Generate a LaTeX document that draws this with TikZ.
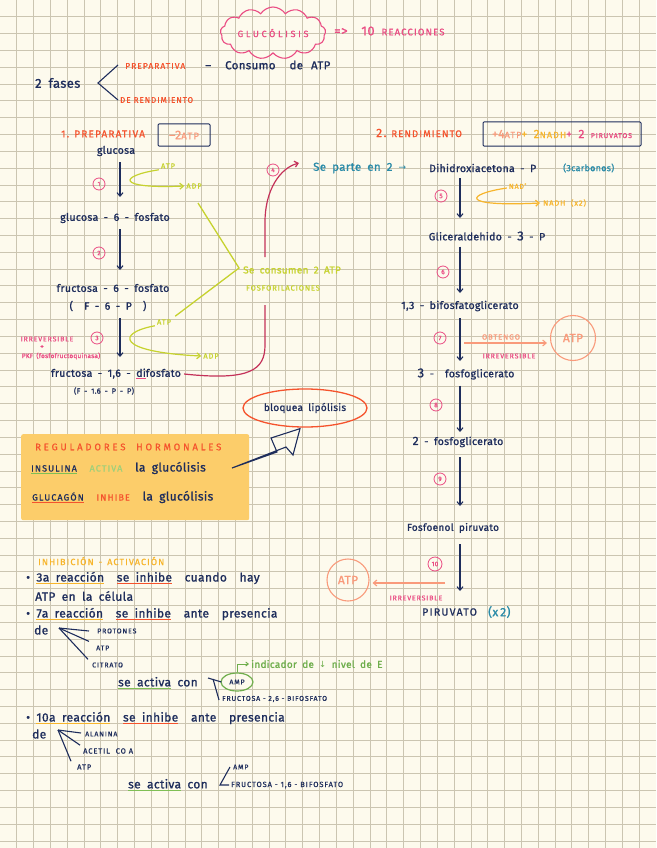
\documentclass[tikz,border=0pt]{standalone}
\usepackage{fontspec}
\setmainfont{Fira Sans}[LetterSpace=3,WordSpace=1.8,FakeBold=1.2]
\newfontfamily\capsf{Fira Sans}[LetterSpace=12,FakeBold=0.8]
\newfontfamily\capsw{Fira Sans}[LetterSpace=30,FakeBold=0.8]
\newfontfamily\dejavu{DejaVu Sans}
\usetikzlibrary{arrows.meta,shapes.symbols,shapes.geometric,calc}
\definecolor{bgc}{HTML}{FDFAED}
\definecolor{gridc}{HTML}{CBC5B1}
\definecolor{navy}{HTML}{1E2D5C}
\definecolor{pinkc}{HTML}{EA4C83}
\definecolor{ored}{HTML}{F5532D}
\definecolor{salmon}{HTML}{F99A7B}
\definecolor{ygreen}{HTML}{C6D22E}
\definecolor{yorange}{HTML}{F7B52C}
\definecolor{teal}{HTML}{2A8BA8}
\definecolor{crim}{HTML}{C43159}
\definecolor{gr}{HTML}{6FAE4C}
\definecolor{lgr}{HTML}{9FD07A}
\definecolor{mgr}{HTML}{7FBF55}
\definecolor{boxy}{HTML}{FCCD6A}
\newsavebox\ulb
\newcommand\ulc[2]{\sbox\ulb{#2}\rlap{\color{#1}\rule[-2.6pt]{\wd\ulb}{1.4pt}}\usebox\ulb}
\begin{document}
\begin{tikzpicture}[x=1pt,y=-1pt,
  nv/.style={text=navy, inner sep=1pt, font=\fontsize{10.5}{12}\selectfont},
  nvb/.style={text=navy, inner sep=1pt, font=\fontsize{12}{13}\selectfont},
  nvs/.style={text=navy, inner sep=1pt, font=\capsf\fontsize{7}{8}\selectfont},
  capo/.style={text=ored, inner sep=1pt, font=\capsf\fontsize{8.5}{9}\selectfont},
  capp/.style={text=pinkc, inner sep=1pt, font=\capsf\fontsize{7}{8}\selectfont},
  capy/.style={text=ygreen, inner sep=1pt, font=\capsf\fontsize{7.5}{8}\selectfont},
  numc/.style={circle, draw=pinkc, line width=0.8pt, text=pinkc, inner sep=0pt, minimum size=12pt, font=\fontsize{6.5}{7}\selectfont},
  arr/.style={draw=navy, line width=1.1pt, -{Straight Barb[length=3.5pt,width=6pt]}},
  ln/.style={draw=navy, line width=1.1pt},
  yarr/.style={draw=ygreen, line width=1.2pt, -{Straight Barb[length=3.5pt,width=6pt]}},
  oarr/.style={draw=yorange, line width=1.2pt, -{Straight Barb[length=3.5pt,width=6pt]}},
  sarr/.style={draw=salmon, line width=1.1pt, -{Straight Barb[length=3.5pt,width=6pt]}},
]
\useasboundingbox (0,0) rectangle (656,848);
\fill[bgc] (0,0) rectangle (656,848);
\foreach \i in {1,...,38} \draw[gridc,line width=0.9pt] (\i*16.82,0) -- (\i*16.82,848);
\foreach \j in {1,...,50} \draw[gridc,line width=0.9pt] (0,\j*16.82) -- (656,\j*16.82);

% ---------- title ----------
\node[cloud, cloud puffs=13, cloud puff arc=115, aspect=2.6, draw=pinkc, line width=1.1pt,
  text=pinkc, inner sep=1pt, minimum width=104pt, minimum height=40pt,
  font=\capsw\fontsize{9}{9}\selectfont] (title) at (273,33) {GLUCÓLISIS};
\node[anchor=west, text=pinkc, inner sep=1pt, font=\fontsize{13}{14}\selectfont] (reac) at (333,31)
  {=> \ 10 {\capsf\fontsize{9.5}{10}\selectfont REACCIONES}};

% ---------- 2 fases ----------
\node[nv, anchor=west, font=\fontsize{13}{14}\selectfont] (fases) at (34,83) {2 fases};
\coordinate (bk) at (98,83);
\draw[ln] (118,65) -- (bk) -- (118,100);
\node[capo, anchor=west] (prep) at (124,66) {PREPARATIVA};
\node[nv, anchor=west, font=\fontsize{11.5}{12}\selectfont] (consumo) at (204,65) {–\hspace{14pt}Consumo\hspace{14pt}de\hspace{8pt}ATP};
\node[capo, anchor=west, font=\capsf\fontsize{8}{9}\selectfont] (derend) at (119,100) {DE RENDIMIENTO};

% ---------- left column ----------
\coordinate (Lx) at (120,0);
\node[capo, anchor=west, font=\capsf\fontsize{10}{11}\selectfont] (prep1) at (60,134) {1. PREPARATIVA};
\node[draw=navy, line width=1pt, rounded corners=1pt, minimum width=52pt, minimum height=22pt,
  text=salmon, inner sep=1pt, font=\fontsize{12.5}{13}\selectfont] (m2atp) at (184,135) {–2{\capsf\fontsize{9.5}{10}\selectfont ATP}};
\node[nv] (glucosa) at (116,151) {glucosa};
\draw[arr] ([yshift=-5pt]glucosa.south -| Lx) -- (120,197);
\node[numc] (n1) at (99,184) {1};
\node[capy] (atp1) at (168,166) {ATP};
\node[capy] (adp1) at (194,186) {ADP};
\draw[yarr] ([xshift=-1pt]atp1.south west) .. controls (118,176) and (116,189) .. ([xshift=-1pt]adp1.west);

\node[nv] (g6p) at (115,218) {glucosa - 6 - fosfato};
\draw[arr] ([yshift=-5pt]g6p.south -| Lx) -- (120,270);
\node[numc] (n2) at (99,253) {2};
\node[nv] (f6p) at (113,288) {fructosa - 6 - fosfato};
\node[nv] (f6pb) at (108,306) {(\ \ F - 6 - P \ )};
\draw[arr] ([yshift=-6pt]f6pb.south -| Lx) -- (120,357);
\node[numc] (n3) at (97,338) {3};
\node[capp, font=\capsf\fontsize{7}{8}\selectfont] (irr1) at (47,339) {IRREVERSIBLE};
\node[text=pinkc, inner sep=0pt, font=\fontsize{7}{7}\selectfont] (plus1) at (42,347) {+};
\node[text=pinkc, inner sep=1pt, font=\fontsize{6.5}{7}\selectfont] (pkf) at (61,356) {PKF (fosfofructoquinasa)};

\coordinate (yv) at (239,268);
\node[capy] (atp3) at (164,322) {ATP};
\node[capy] (adp3) at (211,356) {ADP};
\draw[draw=ygreen, line width=1.3pt] (198,203) -- (yv) -- ([xshift=3pt,yshift=2pt]atp3.north east);
\draw[yarr] ([xshift=-1pt]atp3.south west) .. controls (116,333) and (116,352) .. ([xshift=-1pt]adp3.west);
\node[anchor=west, text=ygreen, inner sep=1pt, font=\fontsize{10}{11}\selectfont] (seco) at (242,270) {Se consumen 2 ATP};
\node[anchor=west, text=ygreen, inner sep=1pt, font=\capsf\fontsize{7.5}{8}\selectfont] (fosfo) at (245,288) {FOSFORILACIONES};

\node[nv] (f16) at (116,374) {fructosa - 1,6 - \ulc{pinkc}{di}fosfato};
\node[nv, font=\fontsize{7.5}{8}\selectfont] (f16b) at (104,391) {(F - 1.6 - P - P)};

% crimson bracket
\draw[draw=crim, line width=1.2pt] ([xshift=2pt]f16.east) .. controls (250,381) and (265,370) .. (265,345) -- (265,305);
\draw[draw=crim, line width=1.2pt, -{Straight Barb[length=3.5pt,width=6pt]}] (265,257) -- (265,222) .. controls (265,190) and (280,168) .. (299,163);
\node[numc] (n4) at (273,170) {4};

% ---------- right column ----------
\coordinate (Rx) at (460,0);
\node[anchor=west, text=ored, inner sep=1pt, font=\capsf\fontsize{9.5}{10}\selectfont] (rend) at (375,133) {{\fontsize{12}{12}\selectfont 2.} RENDIMIENTO};
\node[draw=navy, line width=1pt, rounded corners=1pt, minimum width=158pt, minimum height=24pt, inner sep=1pt,
  font=\fontsize{12}{12}\selectfont] (box2) at (562,134)
  {\color{salmon}+4{\capsf\fontsize{9}{9}\selectfont ATP}\color{yorange}+ 2{\capsf\fontsize{9}{9}\selectfont NADH}\color{pinkc} + 2 {\capsf\fontsize{7}{7}\selectfont PIRUVATOS}};
\node[anchor=west, text=teal, inner sep=1pt, font=\fontsize{11.5}{12}\selectfont] (separte) at (312,168) {Se parte en 2 {\dejavu\fontsize{9}{9}\selectfont →}};
\node[nv, anchor=west] (dhap) at (428,168) {Dihidroxiacetona - P};
\node[anchor=west, text=teal, inner sep=1pt, font=\fontsize{9}{10}\selectfont] (carb) at (562,168) {(3carbonos)};
\draw[arr] ([yshift=-5pt]dhap.south -| Rx) -- (460,218);
\node[numc] (n5) at (441,196) {5};
\node[text=yorange, inner sep=1pt, font=\capsf\fontsize{7}{8}\selectfont] (nad) at (518,186) {NAD\textsuperscript{+}};
\node[anchor=west, text=yorange, inner sep=1pt, font=\capsf\fontsize{7.5}{8}\selectfont] (nadh) at (542,203) {NADH \ (x2)};
\draw[oarr] ([xshift=-1pt,yshift=-2pt]nad.west) .. controls (466,194) and (458,207) .. ([xshift=-2pt]nadh.west);

\node[nv] (g3p) at (487,236) {Gliceraldehido - {\fontsize{13}{13}\selectfont 3} - P};
\draw[arr] ([yshift=-5pt]g3p.south -| Rx) -- (460,293);
\node[numc] (n6) at (443,272) {6};
\node[nv] (bpg) at (460,306) {1,3 - bifosfatoglicerato};
\draw[arr] ([yshift=-6pt]bpg.south -| Rx) -- (460,361);
\node[numc] (n7) at (440,338) {7};
\node[circle, draw=salmon, line width=1.1pt, minimum size=45pt, inner sep=0pt, text=salmon,
  font=\fontsize{12}{12}\selectfont] (atpc1) at (573,338) {ATP};
\draw[sarr] (464,343) -- ([xshift=-3pt]atpc1.west |- 0,343);
\node[text=salmon, inner sep=1pt, font=\capsf\fontsize{7.5}{8}\selectfont] (obt) at (501,337) {OBTENGO};
\node[capp] (irr2) at (509,356) {IRREVERSIBLE};

\node[nv] (pg3) at (466,374) {{\fontsize{13}{13}\selectfont 3} -\ \ fosfoglicerato};
\draw[arr] ([yshift=-5pt]pg3.south -| Rx) -- (460,432);
\node[numc] (n8) at (436,405) {8};
\node[nv] (pg2) at (458,442) {{\fontsize{12}{12}\selectfont 2} - fosfoglicerato};
\draw[arr] ([yshift=-9pt]pg2.south -| Rx) -- (460,506);
\node[numc] (n9) at (440,479) {9};
\node[nv, font=\fontsize{10}{10}\selectfont] (pep) at (453,528) {Fosfoenol piruvato};
\draw[arr] ([yshift=-10pt]pep.south -| Rx) -- (460,591);
\node[numc, minimum size=14pt] (n10) at (435,564) {10};
\node[circle, draw=salmon, line width=1.1pt, minimum size=42pt, inner sep=0pt, text=salmon,
  font=\fontsize{12}{12}\selectfont] (atpc2) at (348,580) {ATP};
\draw[sarr] (445,583) -- ([xshift=3pt]atpc2.east |- 0,583);
\node[capp] (irr3) at (416,598) {IRREVERSIBLE};
\node[anchor=west, text=navy, inner sep=1pt, font=\capsf\fontsize{10.5}{11}\selectfont] (piru) at (421,612) {PIRUVATO};
\node[anchor=west, text=teal, inner sep=1pt, font=\fontsize{12}{13}\selectfont] (x2) at (487,612) {(x\,2)};

% ---------- reguladores ----------
\node[ellipse, draw=ored, line width=1.3pt, minimum width=124pt, minimum height=38pt, inner sep=0pt,
  text=navy, font=\fontsize{10}{11}\selectfont] (lipo) at (305,408) {bloquea lipólisis};
\node[fill=boxy, rounded corners=2pt, minimum width=228pt, minimum height=86pt, anchor=north west, inner sep=0pt] (regbox) at (21,434) {};
\node[anchor=west, text=ored, inner sep=1pt, font=\capsw\fontsize{9.5}{10}\selectfont] (regtit) at (34,447) {REGULADORES \ HORMONALES};
\node[anchor=west, text=navy, inner sep=1pt, font=\fontsize{12}{13}\selectfont] (insl) at (30,468)
  {\ulc{mgr}{{\capsf\fontsize{9}{9}\selectfont INSULINA}} \ {\color{lgr}\capsf\fontsize{9}{9}\selectfont ACTIVA} \ la glucólisis};
\node[anchor=west, text=navy, inner sep=1pt, font=\fontsize{12}{13}\selectfont] (glucl) at (31,497)
  {\ulc{ored}{{\capsf\fontsize{9}{9}\selectfont GLUCAGÓN}} \ {\color{ored}\capsf\fontsize{9}{9}\selectfont INHIBE} \ la glucólisis};
\coordinate (ba0) at (232,468);
\draw[ln, line join=miter] (ba0) -- (277,452) -- (271,438) -- ([xshift=-5pt,yshift=-1pt]lipo.south) -- (293,455) -- (286,447) -- cycle;

% ---------- inhibicion / activacion ----------
\node[anchor=west, text=yorange, inner sep=1pt, font=\capsf\fontsize{9}{10}\selectfont] (inh) at (37,561) {INHIBICIÓN \,-\, ACTIVACIÓN};
\node[nvb, anchor=west] (r3) at (25,578) {• \ulc{yorange}{3a reacción} \ \ulc{ored}{se inhibe} \ cuando \ hay};
\node[nvb, anchor=west] (r3b) at (34,596) {ATP en la célula};
\node[nvb, anchor=west] (r7) at (25,614) {• \ulc{yorange}{7a reacción} \ \ulc{ored}{se inhibe} \ ante \ presencia};
\node[nvb, anchor=west] (de1) at (33,630) {de};
\coordinate (fan1) at (59,628);
\node[nvs] [anchor=west] (prot) at (96,631) {PROTONES};
\node[nvs] [anchor=west] (atpf) at (95,648) {ATP};
\node[nvs] [anchor=west] (citr) at (91,665) {CITRATO};
\draw[ln] (fan1) -- ([xshift=-7pt]prot.west);
\draw[ln] (fan1) -- ([xshift=-6pt,yshift=3pt]atpf.north west);
\draw[ln] (fan1) -- ([xshift=-3pt,yshift=2pt]citr.north west);
\node[nvb, anchor=west] (act1) at (117,683) {\ulc{mgr}{se activa} con};
\node[ellipse, draw=gr, line width=1.2pt, minimum width=32pt, minimum height=18pt, inner sep=0pt,
  text=navy, font=\capsf\fontsize{7}{7}\selectfont] (amp1) at (237,682) {AMP};
\draw[ln] (208,678) -- ([xshift=1pt]amp1.west);
\draw[ln] (213,679) -- (219,700);
\node[nvs, anchor=west] (f26) at (221,699) {FRUCTOSA - 2,6 - BIFOSFATO};
\node[anchor=west, text=gr, inner sep=1pt, font=\fontsize{10}{11}\selectfont] (indic) at (250,664)
  {indicador de {\dejavu\fontsize{8.5}{9}\selectfont ↓} nivel de E};
\draw[draw=gr, line width=1pt, -{Straight Barb[length=2.5pt,width=4pt]}] (amp1.north) |- ([xshift=-1pt]indic.west);

\node[nvb, anchor=west] (r10) at (25,718) {• \ulc{yorange}{10a reacción} \ \ulc{ored}{se inhibe} \ ante \ presencia};
\node[nvb, anchor=west] (de2) at (31,734) {de};
\coordinate (fan2) at (58,730);
\node[nvs, anchor=west] (ala) at (84,734) {ALANINA};
\node[nvs, anchor=west, font=\capsf\fontsize{7.5}{8}\selectfont] (acet) at (82,751) {ACETIL \ CO A};
\node[nvs, anchor=west, font=\capsf\fontsize{7.5}{8}\selectfont] (atpg) at (76,767) {ATP};
\draw[ln] (fan2) -- ([xshift=-3pt,yshift=1pt]ala.west);
\draw[ln] (fan2) -- ([xshift=-2pt,yshift=2pt]acet.north west);
\draw[ln] (fan2) -- ([xshift=-5pt,yshift=2pt]atpg.north west);
\node[nvb, anchor=west] (act2) at (127,785) {\ulc{mgr}{se activa} con};
\node[nvs, anchor=west] (amp2) at (232,767) {AMP};
\node[nvs, anchor=west, font=\capsf\fontsize{7.5}{8}\selectfont] (f16c) at (230,785) {FRUCTOSA - 1,6 - BIFOSFATO};
\draw[ln] ([xshift=-2pt]amp2.west) -- (220,785) -- ([xshift=-1pt]f16c.west);
\end{tikzpicture}
\end{document}
